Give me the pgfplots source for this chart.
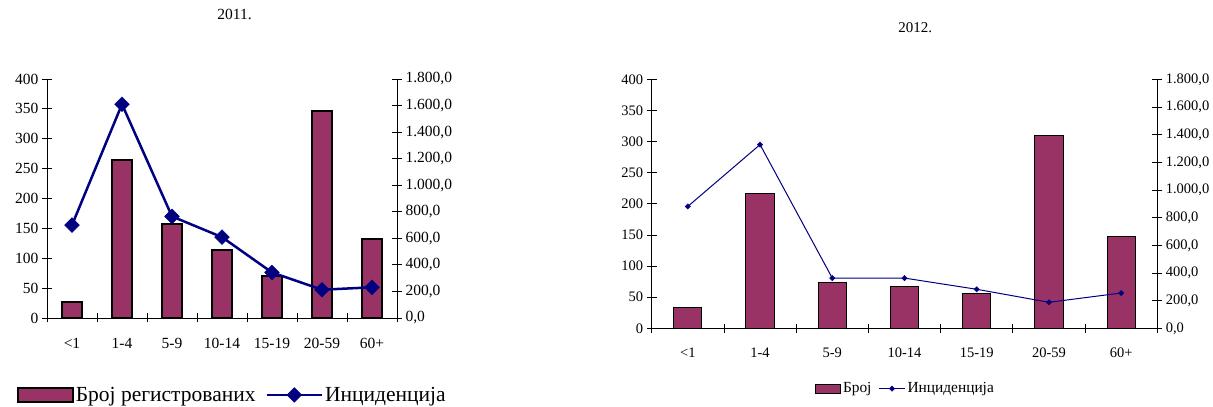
\documentclass[border=0pt]{standalone}
\usepackage{fontspec}
\setmainfont{Liberation Serif}
\usepackage{pgfplots}
\pgfplotsset{compat=1.18}

\definecolor{plum}{HTML}{993366}
\definecolor{navyc}{HTML}{000080}

\pgfplotsset{
  barlegend/.style 2 args={legend image code/.code={\draw[##1] (0bp,-#2) rectangle (#1,#2);}},
  linelegend/.style={legend image code/.code={\draw[mark repeat=2,mark phase=2,##1] plot coordinates {(0bp,0bp) (#1,0bp) (2*#1,0bp)};}},
  agebase/.style={
    scale only axis, clip=false,
    xmin=-0.5, xmax=6.5,
    tick align=center,
    major tick length=10bp, minor tick length=9bp,
    tick style={black, line width=0.8bp},
    axis line style={-, black, line width=0.8bp},
    /pgf/number format/assume math mode=true,
    scaled y ticks=false,
  },
  countaxis/.style={
    agebase,
    ymin=0, ymax=400, ytick={0,50,...,400},
    axis x line*=bottom, axis y line*=left,
    xtick={0,...,6},
    xticklabels={<1,1-4,5-9,10-14,15-19,20-59,60+},
    minor xtick={-0.5,0.5,...,6.5},
    major x tick style={draw=none},
  },
  rateaxis/.style={
    agebase,
    ymin=0, ymax=1800, ytick={0,200,...,1800},
    axis y line*=right, axis x line=none,
    yticklabel style={/pgf/number format/.cd, fixed, fixed zerofill, precision=1, use comma},
  },
}

\begin{document}
\begin{tikzpicture}
\path[use as bounding box] (0bp,0bp) rectangle (1213bp,407bp);

% ---------- 2011 ----------
\begin{axis}[countaxis,
  at={(47bp,89bp)}, anchor=south west, width=350bp, height=239bp,
  tick label style={font=\fontsize{15.5bp}{18bp}\selectfont},
  xticklabel style={yshift=-12bp},
  title={2011.}, title style={font=\fontsize{15.5bp}{18bp}\selectfont, at={(axis description cs:0.536,1.244)}, anchor=center},
]
\addplot[ybar, bar width=20bp, fill=plum, draw=black, line width=2bp]
  coordinates {(0,27) (1,265) (2,157) (3,114) (4,70) (5,347) (6,133)};
\end{axis}

\begin{axis}[rateaxis,
  at={(47bp,89bp)}, anchor=south west, width=350bp, height=239bp,
  tick label style={font=\fontsize{15.5bp}{18bp}\selectfont},
  legend columns=2,
  legend style={draw=none, fill=none, inner sep=0pt, outer sep=0pt,
    at={(axis description cs:-0.086,-0.322)}, anchor=west,
    font=\fontsize{21.5bp}{24bp}\selectfont,
    /tikz/every even column/.append style={column sep=8bp}},
]
\addlegendimage{fill=plum, draw=black, line width=2bp, barlegend={55bp}{7bp}}
\addlegendentry{Број регистрованих}
\addplot[navyc, line width=2.5bp, sharp plot, mark=square*, mark size=5.2bp,
  mark options={rotate=45, fill=navyc, line width=0.5bp}, linelegend=27.5bp]
  coordinates {(0,700) (1,1610) (2,765) (3,609) (4,343) (5,213) (6,231)};
\addlegendentry{Инциденција}
\end{axis}

% ---------- 2012 ----------
\begin{axis}[countaxis,
  at={(651.7bp,78.7bp)}, anchor=south west, width=505.6bp, height=249bp,
  tick label style={font=\fontsize{14.5bp}{17bp}\selectfont},
  xticklabel style={yshift=-11bp},
  title={2012.}, title style={font=\fontsize{15bp}{18bp}\selectfont, at={(axis description cs:0.521,1.182)}, anchor=center},
]
\addplot[ybar, bar width=28.3bp, fill=plum, draw=black, line width=1bp]
  coordinates {(0,34) (1,217) (2,74) (3,67) (4,56) (5,309) (6,148)};
\end{axis}

\begin{axis}[rateaxis,
  at={(651.7bp,78.7bp)}, anchor=south west, width=505.6bp, height=249bp,
  tick label style={font=\fontsize{14.5bp}{17bp}\selectfont},
  legend columns=2,
  legend style={draw=none, fill=none, inner sep=0pt, outer sep=0pt,
    at={(axis description cs:0.323,-0.242)}, anchor=west,
    font=\fontsize{15.4bp}{18bp}\selectfont,
    /tikz/every even column/.append style={column sep=5bp}},
]
\addlegendimage{fill=plum, draw=black, line width=1bp, barlegend={25bp}{4.5bp}}
\addlegendentry{Број}
\addplot[navyc, line width=1bp, sharp plot, mark=square*, mark size=1.9bp,
  mark options={rotate=45, fill=navyc, line width=0.4bp}, linelegend=13bp]
  coordinates {(0,881) (1,1328) (2,363) (3,363) (4,282) (5,188) (6,255)};
\addlegendentry{Инциденција}
\end{axis}
\end{tikzpicture}
\end{document}
